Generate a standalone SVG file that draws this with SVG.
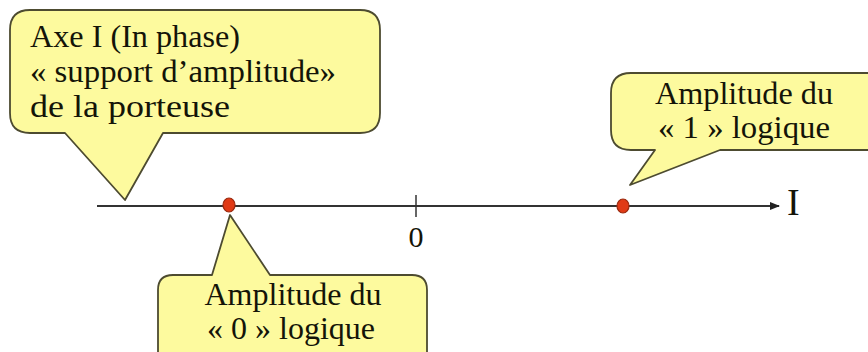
<svg xmlns="http://www.w3.org/2000/svg" width="868" height="352" viewBox="0 0 868 352">
<style>
.callout{fill:#fdfa9e;stroke:#4d4b30;stroke-width:1.8;stroke-linejoin:round}
.t{font-family:"Liberation Serif","Times New Roman",serif;fill:#141408}
.dot{fill:#e03a16;stroke:#9a2a10;stroke-width:1.2}
</style>
<defs>
<marker id="arr" markerWidth="10" markerHeight="8" refX="9" refY="4" orient="auto" markerUnits="userSpaceOnUse">
<path d="M0,0 L10,4 L0,8 Z" fill="#222"/>
</marker>
</defs>
<rect width="868" height="352" fill="#fff"/>
<g id="connectors">
<line x1="97" y1="206" x2="779" y2="206" stroke="#333" stroke-width="2" marker-end="url(#arr)"/>
<line x1="416" y1="195" x2="416" y2="217" stroke="#333" stroke-width="1.5"/>
</g>
<g id="axis-labels">
<text class="t" x="787" y="215" font-size="38">I</text>
<text class="t" x="416" y="247" font-size="30" text-anchor="middle">0</text>
</g>
<g id="callout-axe">
<path class="callout" d="M30,10 H360 Q380,10 380,30 V113 Q380,133 360,133 H163 L125,200 L65,133 H30 Q10,133 10,113 V30 Q10,10 30,10 Z"/>
<text class="t" font-size="32"><tspan x="30" y="47" textLength="210" lengthAdjust="spacingAndGlyphs">Axe I (In phase)</tspan><tspan x="30" y="82" textLength="306" lengthAdjust="spacingAndGlyphs">« support d’amplitude»</tspan><tspan x="30" y="117" textLength="200" lengthAdjust="spacingAndGlyphs">de la porteuse</tspan></text>
</g>
<g id="callout-1">
<path class="callout" d="M631,73 H880 V150 H720 L630,185 L655,150 H631 Q611,150 611,130 V93 Q611,73 631,73 Z"/>
<text class="t" font-size="31" text-anchor="middle"><tspan x="744" y="104" textLength="178" lengthAdjust="spacingAndGlyphs">Amplitude du</tspan><tspan x="744" y="138" textLength="172" lengthAdjust="spacingAndGlyphs">« 1 » logique</tspan></text>
</g>
<g id="callout-0">
<path class="callout" d="M173,275 H212 L230,215 L270,275 H412 Q427,275 427,290 V370 H158 V290 Q158,275 173,275 Z"/>
<text class="t" font-size="31" text-anchor="middle"><tspan x="293" y="305" textLength="177" lengthAdjust="spacingAndGlyphs">Amplitude du</tspan><tspan x="291" y="339" textLength="168" lengthAdjust="spacingAndGlyphs">« 0 » logique</tspan></text>
</g>
<g id="point-0"><ellipse class="dot" cx="229" cy="205" rx="6" ry="7"/></g>
<g id="point-1"><ellipse class="dot" cx="623" cy="206" rx="6" ry="7"/></g>
</svg>
